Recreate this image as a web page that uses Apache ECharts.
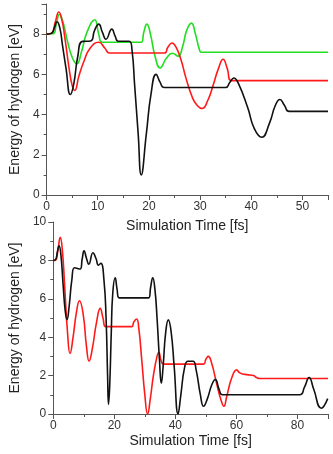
<!DOCTYPE html>
<html lang="en">
<head>
<meta charset="UTF-8">
<title>Energy of hydrogen</title>
<script src="https://cdn.jsdelivr.net/npm/echarts@6/dist/echarts.min.js"></script>
<style>
  html, body { margin: 0; padding: 0; background: #fff; }
</style>
</head>
<body>
<div id="main" style="width:333px;height:454px;"></div>
<script>
// top panel, [time fs, energy eV]
var topBlack = [[0,8],[1.0,8.05],[1.5,8.3],[2.05,8.62],[2.6,8.3],[3.1,7.47],[3.8,6.3],[4.65,5.0],[5.3,5.5],[6.1,6.9],[7.0,7.64],
  [8.6,7.66],[9.4,8.2],[10.2,8.5],[10.9,8.1],[11.6,7.75],[12.75,8.25],[13.4,7.9],[14.0,7.65],[16.15,7.65],[16.7,7.2],
  [17.2,5.5],[17.9,3.05],[18.5,1.0],[19.5,3.05],[20.4,5.0],[21.4,6.0],[22.2,5.6],[23.0,5.35],[35.0,5.35],[35.8,5.6],
  [36.6,5.82],[37.4,5.6],[39.3,4.35],[40.6,3.3],[42.05,2.87],[43.6,3.6],[44.7,4.45],[45.6,4.75],[46.5,4.45],[47.4,4.16],[55,4.16]];
var topRed = [[0,8],[1.0,8.05],[1.7,8.6],[2.4,9.1],[3.0,8.7],[3.5,7.95],[4.4,6.3],[5.0,5.45],[5.5,5.2],[6.3,5.9],[7.3,6.65],
  [8.5,7.3],[10.2,7.6],[11.4,7.3],[12.3,7.06],[23.0,7.06],[23.7,7.35],[24.5,7.56],[25.3,7.35],[26.3,6.7],[27.2,5.85],
  [28.5,4.85],[29.3,4.5],[30.4,4.3],[31.5,4.7],[32.6,5.5],[33.6,6.3],[34.5,6.75],[35.3,6.3],[36.15,5.69],[55,5.69]];
var topGreen = [[0,8],[1.3,8.02],[1.9,8.5],[2.5,8.98],[3.2,8.6],[4.1,7.63],[5.0,6.85],[5.9,6.52],[6.8,7.1],[7.9,8.1],
  [9.4,8.72],[10.2,8.0],[10.9,7.6],[18.5,7.6],[19.0,8.1],[19.6,8.5],[20.3,8.0],[21.2,6.9],[22.2,6.32],[23.4,6.8],
  [24.6,7.05],[25.7,6.9],[26.6,7.4],[27.4,8.2],[28.3,8.55],[29.1,8.0],[29.8,7.3],[30.3,7.1],[55,7.1]];

// bottom panel
var botBlack = [[0,8],[0.8,8.05],[1.3,8.4],[1.9,8.76],[2.5,8.3],[3.2,6.8],[3.9,5.4],[4.5,4.92],[5.2,5.6],[6.1,7.0],[7.0,7.62],
  [8.8,7.55],[9.5,8.1],[10.1,8.5],[10.9,8.1],[11.65,7.8],[13.0,8.4],[14.0,8.1],[14.8,7.75],[15.6,7.85],[16.6,7.0],
  [17.3,5.0],[17.8,2.0],[18.1,0.5],[18.5,1.5],[19.0,4.2],[19.5,6.3],[20.3,7.1],[20.9,6.5],[21.55,6.05],[31.25,6.05],
  [31.9,6.6],[32.6,7.1],[33.3,6.5],[34.0,5.0],[34.8,2.8],[35.4,1.6],[36.0,2.5],[36.8,4.2],[37.7,4.9],[38.6,4.3],
  [39.6,2.5],[40.9,0.0],[41.8,1.0],[43.0,2.4],[44.1,2.75],[45.8,2.75],[46.8,2.3],[48.2,1.0],[49.25,0.4],[50.5,0.8],
  [52.0,1.55],[53.1,1.8],[54.3,1.3],[55.5,1.0],[80.7,1.0],[82.3,1.4],[83.8,1.9],[85.3,1.3],[87.8,0.3],[89.9,0.8]];
var botRed = [[0,8],[0.8,8.02],[1.5,8.5],[2.3,9.2],[3.0,8.5],[3.8,6.5],[4.7,4.2],[5.5,3.15],[6.5,4.0],[7.5,5.2],[8.6,5.9],
  [9.8,5.2],[10.9,3.5],[11.75,2.75],[12.8,3.4],[14.2,4.8],[15.4,5.5],[16.3,5.0],[17.2,4.55],[25.7,4.55],[26.4,4.8],
  [27.3,4.95],[28.0,4.5],[29.0,2.8],[30.0,1.0],[30.9,0.0],[31.8,0.8],[32.8,2.0],[34.0,3.0],[34.6,3.2],[35.3,2.8],
  [36.1,2.6],[49.25,2.6],[50.0,2.85],[50.8,3.0],[51.8,2.7],[53.5,1.6],[55.0,0.7],[55.9,0.4],[56.8,0.9],[58.5,1.9],
  [60.1,2.3],[61.0,2.15],[61.75,2.1],[63.5,2.05],[65.6,2.0],[66.6,1.9],[67.6,1.85],[90,1.85]];

var topXTicks = 10, botXTicks = 20, yTicks = 2;

var font = '"Liberation Sans", Arial, sans-serif';
var axisCol = '#555';

function xAx(idx, max, step, gap) {
    return {
        type: 'value', gridIndex: idx, min: 0, max: max, interval: step,
        name: 'Simulation Time [fs]', nameLocation: 'middle', nameGap: gap,
        nameTextStyle: { fontSize: 14, color: '#222', fontFamily: font },
        axisLine: { show: true, lineStyle: { color: axisCol } },
        axisTick: { show: true, inside: false, length: 5, lineStyle: { color: axisCol } },
        minorTick: { show: true, splitNumber: 2, length: 3, lineStyle: { color: axisCol } },
        splitLine: { show: false },
        axisLabel: {
            fontSize: 12, color: '#333', fontFamily: font, margin: 6,
            formatter: function (v) { return v % step === 0 ? v : ''; }
        }
    };
}
function yAx(idx, max) {
    return {
        type: 'value', gridIndex: idx, min: 0, max: max, interval: yTicks,
        name: 'Energy of hydrogen [eV]', nameLocation: 'middle', nameGap: 22,
        nameTextStyle: { fontSize: 14, color: '#222', fontFamily: font },
        axisLine: { show: true, lineStyle: { color: axisCol } },
        axisTick: { show: true, inside: false, length: 5, lineStyle: { color: axisCol } },
        minorTick: { show: true, splitNumber: 2, length: 3, lineStyle: { color: axisCol } },
        splitLine: { show: false },
        axisLabel: {
            fontSize: 12, color: '#333', fontFamily: font, margin: 7,
            formatter: function (v) { return v % yTicks === 0 ? v : ''; }
        }
    };
}
function line(data, color, xi) {
    return {
        type: 'line', xAxisIndex: xi, yAxisIndex: xi, data: data,
        smooth: 0.5, showSymbol: false, animation: false,
        lineStyle: { color: color, width: 1.6 }, itemStyle: { color: color }
    };
}

var myChart = echarts.init(document.getElementById('main'));
myChart.setOption({
    backgroundColor: '#fff',
    animation: false,
    grid: [
        { left: 42, right: 5, top: 4, height: 191 },
        { left: 42, right: 5, top: 222, height: 192 }
    ],
    xAxis: [xAx(0, 55, topXTicks, 24), xAx(1, 90, botXTicks, 20)],
    yAxis: [yAx(0, 9.5), yAx(1, 10)],
    series: [
        line(topGreen, '#22dd22', 0),
        line(topRed, '#ff1a1a', 0),
        line(topBlack, '#111111', 0),
        line(botRed, '#ff1a1a', 1),
        line(botBlack, '#111111', 1)
    ]
});
</script>
</body>
</html>
